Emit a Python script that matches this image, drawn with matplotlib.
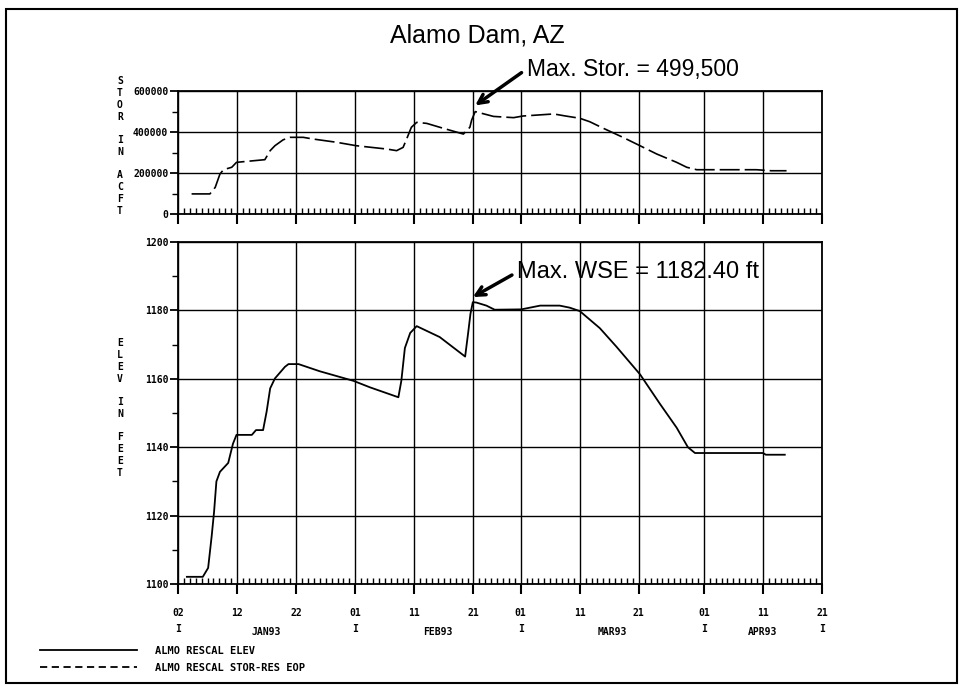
import numpy as np
import matplotlib
matplotlib.use("Agg")
import matplotlib.pyplot as plt
from matplotlib.lines import Line2D
from matplotlib.patches import Rectangle
import matplotlib.transforms as mtransforms

# day of year 1993 (1 = Jan 1)
elev_day = [3.5, 6.2, 7.1, 7.7, 8.1, 8.5, 9.1, 10.5, 11.3, 11.9, 14.5, 15.2, 16.4,
            17.0, 17.6, 18.4, 20.1, 20.7, 22.4, 26.0, 31.7, 34.5, 39.3, 39.8, 40.4,
            41.3, 42.4, 46.3, 50.6, 51.1, 51.5, 51.9, 52.5, 54.2, 55.6, 60.1, 63.3,
            66.6, 68.3, 70.0, 73.4, 76.2, 80.2, 83.6, 86.4, 88.3, 89.5, 101.0, 101.5,
            104.7]
elev_ft = [1102.1, 1102.1, 1104.7, 1114.0, 1121.0, 1130.0, 1132.8, 1135.4, 1141.0,
           1143.6, 1143.6, 1145.0, 1145.0, 1150.4, 1157.2, 1160.1, 1163.5, 1164.3,
           1164.3, 1162.2, 1159.4, 1157.5, 1154.6, 1159.4, 1169.0, 1173.4, 1175.4,
           1172.2, 1166.5, 1173.3, 1179.0, 1182.4, 1182.3, 1181.4, 1180.2, 1180.3,
           1181.4, 1181.4, 1180.8, 1179.8, 1174.8, 1169.4, 1161.3, 1152.6, 1145.7,
           1140.0, 1138.3, 1138.3, 1137.8, 1137.8]

stor_day = [4.3, 7.4, 8.3, 9.1, 9.7, 11.1, 11.9, 16.7, 17.6, 18.4, 19.8, 21.0, 23.2,
            24.8, 28.8, 32.2, 37.3, 39.0, 40.1, 40.7, 41.5, 42.4, 44.1, 46.9, 50.3,
            51.4, 51.7, 52.3, 55.4, 58.8, 60.4, 65.6, 67.6, 70.0, 71.7, 74.0, 77.3,
            80.2, 83.0, 86.4, 88.1, 89.8, 99.9, 102.4, 105.0]
stor_acft = [98000, 98000, 130000, 195000, 216000, 228000, 252000, 265000, 309000,
             333000, 362000, 374000, 374000, 366000, 350000, 333000, 317000, 309000,
             325000, 366000, 423000, 447000, 442000, 418000, 390000, 423000, 458000,
             499500, 476000, 470000, 478000, 488000, 478000, 467000, 450000, 418000,
             374000, 333000, 293000, 252000, 228000, 216000, 216000, 211000, 211000]

major_days = [2, 12, 22, 32, 42, 52, 60, 70, 80, 91, 101, 111]
major_labels = ["02\nI", "12", "22", "01\nI", "11", "21", "01\nI", "11", "21",
                "01\nI", "11", "21\nI"]
month_names = ["JAN93", "FEB93", "MAR93", "APR93"]
month_mid = [17, 46, 75.5, 101]

stor_ticks = [0, 200000, 400000, 600000]
elev_ticks = [1100, 1120, 1140, 1160, 1180, 1200]

mono = {"family": "DejaVu Sans Mono", "weight": "bold"}

fig = plt.figure(figsize=(9.63, 6.88), dpi=100)
W, H = 963.0, 688.0

def px_axes(left, top, right, bottom):
    return fig.add_axes([left / W, 1 - bottom / H, (right - left) / W, (bottom - top) / H])

ax1 = px_axes(178, 91, 822, 214)
ax2 = px_axes(178, 242, 822, 584)

for ax in (ax1, ax2):
    ax.set_xlim(2, 111)
    ax.set_xticks(major_days)
    ax.set_xticks(np.arange(2, 112), minor=True)
    ax.tick_params(axis="x", which="major", direction="out", length=7, width=1.5,
                   top=False, labelsize=7)
    ax.tick_params(axis="x", which="minor", direction="in", length=4, width=1.0,
                   top=False)
    ax.tick_params(axis="y", which="major", direction="out", length=6, width=1.3,
                   right=False, labelsize=7, pad=1)
    ax.tick_params(axis="y", which="minor", direction="out", length=4, width=1.0,
                   right=False)
    ax.grid(True, which="major", color="black", lw=1.0)
    for s in ax.spines.values():
        s.set_linewidth(1.3)

# storage panel
ax1.set_ylim(0, 600000)
ax1.set_yticks(stor_ticks)
ax1.set_yticks([100000, 300000, 500000], minor=True)
ax1.set_yticklabels([str(v) for v in stor_ticks], **mono)
ax1.tick_params(axis="x", labelbottom=False)
ax1.plot(stor_day, stor_acft, color="black", lw=1.2, dashes=(12, 3))

# elevation panel
ax2.set_ylim(1100, 1200)
ax2.set_yticks(elev_ticks)
ax2.set_yticks(np.arange(1110, 1200, 20), minor=True)
ax2.set_yticklabels([str(v) for v in elev_ticks], **mono)
ax2.set_xticklabels(major_labels, fontsize=7, linespacing=1.8, **mono)
ax2.tick_params(axis="x", which="major", pad=10)
ax2.plot(elev_day, elev_ft, color="black", lw=1.3)

trans = mtransforms.blended_transform_factory(ax2.transData, ax2.transAxes)
for name, d in zip(month_names, month_mid):
    ax2.text(d, -0.14, name, transform=trans, ha="center", va="center",
             fontsize=7, **mono)

# vertical stacked axis labels
fig.text(120 / W, 1 - 146 / H, "S\nT\nO\nR\n\nI\nN\n\nA\nC\nF\nT", ha="center",
         va="center", fontsize=7, linespacing=1.22, **mono)
fig.text(120 / W, 1 - 408 / H, "E\nL\nE\nV\n\nI\nN\n\nF\nE\nE\nT", ha="center",
         va="center", fontsize=7, linespacing=1.22, **mono)

fig.text(477 / W, 1 - 35 / H, "Alamo Dam, AZ", ha="center", va="center",
         fontsize=18, family="Liberation Sans")

# annotations
arrow = dict(arrowstyle="->", lw=2.5, color="black", mutation_scale=16,
             shrinkA=2, shrinkB=0, relpos=(0, 0.5))
imax = int(np.argmax(stor_acft))
ax1.annotate("Max. Stor. = 499,500", xy=(stor_day[imax], stor_acft[imax] + 30000),
             xytext=(61.0, 707000), ha="left", va="center", fontsize=16.5,
             family="Liberation Sans", annotation_clip=False, arrowprops=arrow)
jmax = int(np.argmax(elev_ft))
ax2.annotate("Max. WSE = 1182.40 ft", xy=(elev_day[jmax], elev_ft[jmax] + 1.5),
             xytext=(59.4, 1191.2), ha="left", va="center", fontsize=17,
             family="Liberation Sans", annotation_clip=False, arrowprops=arrow)

# legend
handles = [Line2D([], [], color="black", lw=1.3),
           Line2D([], [], color="black", lw=1.3, dashes=(4, 2.5))]
fig.legend(handles, ["ALMO RESCAL ELEV", "ALMO RESCAL STOR-RES EOP"],
           loc="upper left", bbox_to_anchor=(40 / W, 1 - 646 / H),
           frameon=False, borderpad=0, borderaxespad=0, handlelength=9.3,
           handletextpad=1.7, labelspacing=0.65,
           prop={"family": "DejaVu Sans Mono", "weight": "bold", "size": 7.5})

# outer frame
fig.patches.append(Rectangle((6 / W, 1 - 683 / H), 951 / W, 674 / H,
                             transform=fig.transFigure, fill=False,
                             edgecolor="black", lw=1.5))

fig.savefig("out.png", dpi=100)
